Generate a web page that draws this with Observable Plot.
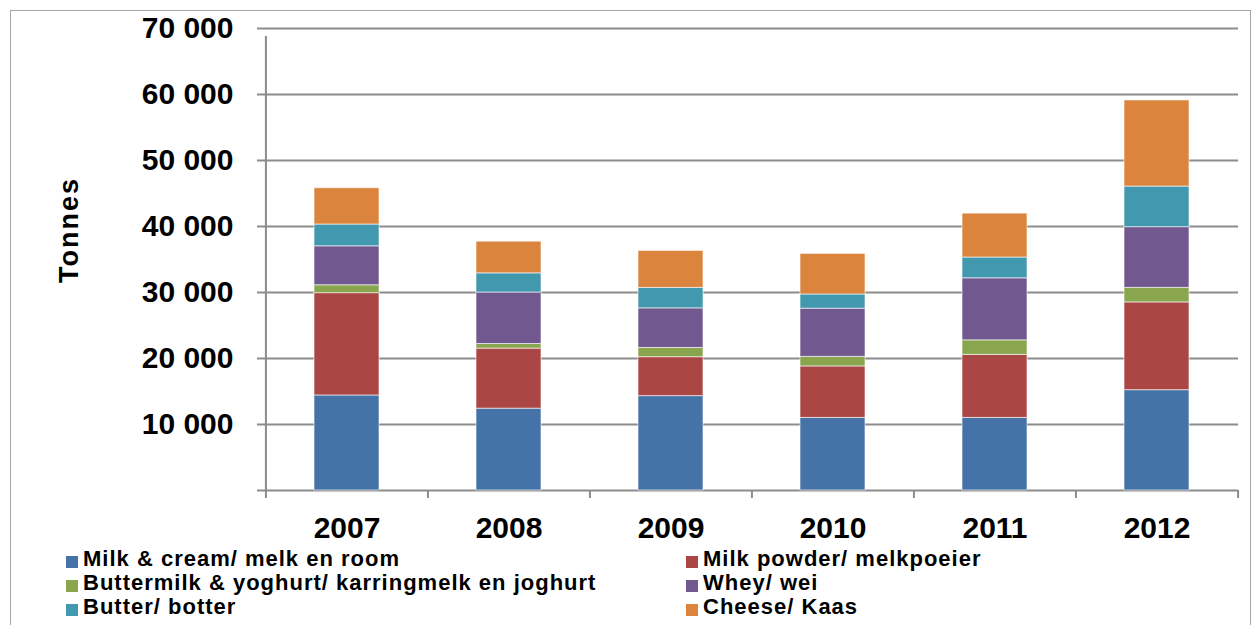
<!DOCTYPE html>
<html>
<head>
<meta charset="utf-8">
<script src="https://cdn.jsdelivr.net/npm/d3@7"></script>
<script src="https://cdn.jsdelivr.net/npm/@observablehq/plot@0.6"></script>
<style>
  html, body { margin: 0; padding: 0; background: #fff; }
  body { width: 1257px; height: 625px; position: relative; overflow: hidden; font-family: "Liberation Sans", Arial, Helvetica, sans-serif; }
  #frame { position: absolute; left: 10px; top: 10px; width: 1241px; height: 660px; border: 1.5px solid #a6a6a6; box-sizing: border-box; pointer-events: none; }
  #chart { position: absolute; left: 0; top: 0; }
  #ylabel { position: absolute; left: 69px; top: 230px; transform: translate(-50%, -50%) rotate(-90deg); font-size: 27px; font-weight: bold; letter-spacing: 2px; white-space: nowrap; color: #000; }
  #legend { position: absolute; left: 66px; top: 547px; display: grid; grid-template-columns: 620px 500px; grid-auto-rows: 24px; }
  .item { display: flex; align-items: flex-start; font-size: 22px; font-weight: bold; line-height: 24px; letter-spacing: 1px; white-space: nowrap; color: #000; }
  .sw { width: 12px; height: 12px; margin-top: 9px; margin-right: 5px; flex: none; }
</style>
</head>
<body>
<div id="chart"></div>
<div id="ylabel">Tonnes</div>
<div id="legend"></div>
<div id="frame"></div>
<script>
const years = ["2007", "2008", "2009", "2010", "2011", "2012"];
const seriesNames = [
  "Milk & cream/ melk en room",
  "Milk powder/ melkpoeier",
  "Buttermilk & yoghurt/ karringmelk en joghurt",
  "Whey/ wei",
  "Butter/ botter",
  "Cheese/ Kaas"
];
const seriesColors = ["#4572A7", "#AA4643", "#89A54E", "#71588F", "#4198AF", "#DB843D"];
const milkCream   = [14400, 12400, 14300, 11000, 11000, 15200];
const milkPowder  = [15500,  9100,  5900,  7800,  9550, 13300];
const buttermilk  = [ 1200,   700,  1400,  1450,  2200,  2200];
const whey        = [ 5900,  7800,  6000,  7300,  9400,  9200];
const butter      = [ 3300,  2900,  3100,  2150,  3150,  6150];
const cheese      = [ 5500,  4800,  5600,  6150,  6650, 13050];
const yTicks = [0, 10000, 20000, 30000, 40000, 50000, 60000, 70000];

const seriesValues = [milkCream, milkPowder, buttermilk, whey, butter, cheese];
const data = [];
seriesNames.forEach((s, i) => years.forEach((y, j) => data.push({year: y, series: s, value: seriesValues[i][j]})));

const W = 1257, H = 545, ML = 265, MR = 19, MT = 28, MB = 55;
const step = (W - ML - MR) / years.length;
const gray = "#8c8c8c";
const fmt = d => d === 0 ? "" : d3.format(",")(d).replace(/,/g, " ");

const chart = Plot.plot({
  width: W, height: H,
  marginLeft: ML, marginRight: MR, marginTop: MT, marginBottom: MB,
  style: {fontFamily: '"Liberation Sans", Arial, sans-serif', background: "transparent", overflow: "visible"},
  x: {domain: years, paddingInner: 0.6, paddingOuter: 0.3, axis: null},
  y: {domain: [0, 70000], axis: null},
  color: {domain: seriesNames, range: seriesColors},
  marks: [
    Plot.gridY(yTicks.slice(1), {stroke: gray, strokeOpacity: 1, strokeWidth: 2}),
    Plot.ruleY([0], {stroke: gray, strokeWidth: 2}),
    Plot.ruleX([years[0]], {x: d => d, y1: 0, y2: 70000, dx: -step / 2, stroke: gray, strokeWidth: 2, insetBottom: -8}),
    Plot.ruleX(years, {x: d => d, y1: 0, y2: 0, dx: -step / 2, stroke: gray, strokeWidth: 2, insetBottom: -8}),
    Plot.ruleX([years[years.length - 1]], {x: d => d, y1: 0, y2: 0, dx: step / 2, stroke: gray, strokeWidth: 2, insetBottom: -8}),
    Plot.barY(data, {x: "year", y: "value", fill: "series", order: seriesNames, stroke: "#fff", strokeWidth: 1, strokeOpacity: 0.6}),
    Plot.axisY(yTicks, {tickSize: 8, tickPadding: 24, tickFormat: fmt, fontSize: 30, fontWeight: "bold", stroke: gray, strokeWidth: 2, fill: "#000", label: null}),
    Plot.axisX({tickSize: 0, tickPadding: 26, fontSize: 30, fontWeight: "bold", fill: "#000", label: null})
  ]
});
document.getElementById("chart").appendChild(chart);

const legend = document.getElementById("legend");
// order: row-major two columns as in the reference
seriesNames.forEach((s, i) => {
  const item = document.createElement("div");
  item.className = "item";
  const sw = document.createElement("span");
  sw.className = "sw";
  sw.style.background = seriesColors[i];
  const t = document.createElement("span");
  t.textContent = s;
  item.appendChild(sw);
  item.appendChild(t);
  legend.appendChild(item);
});
</script>
</body>
</html>
